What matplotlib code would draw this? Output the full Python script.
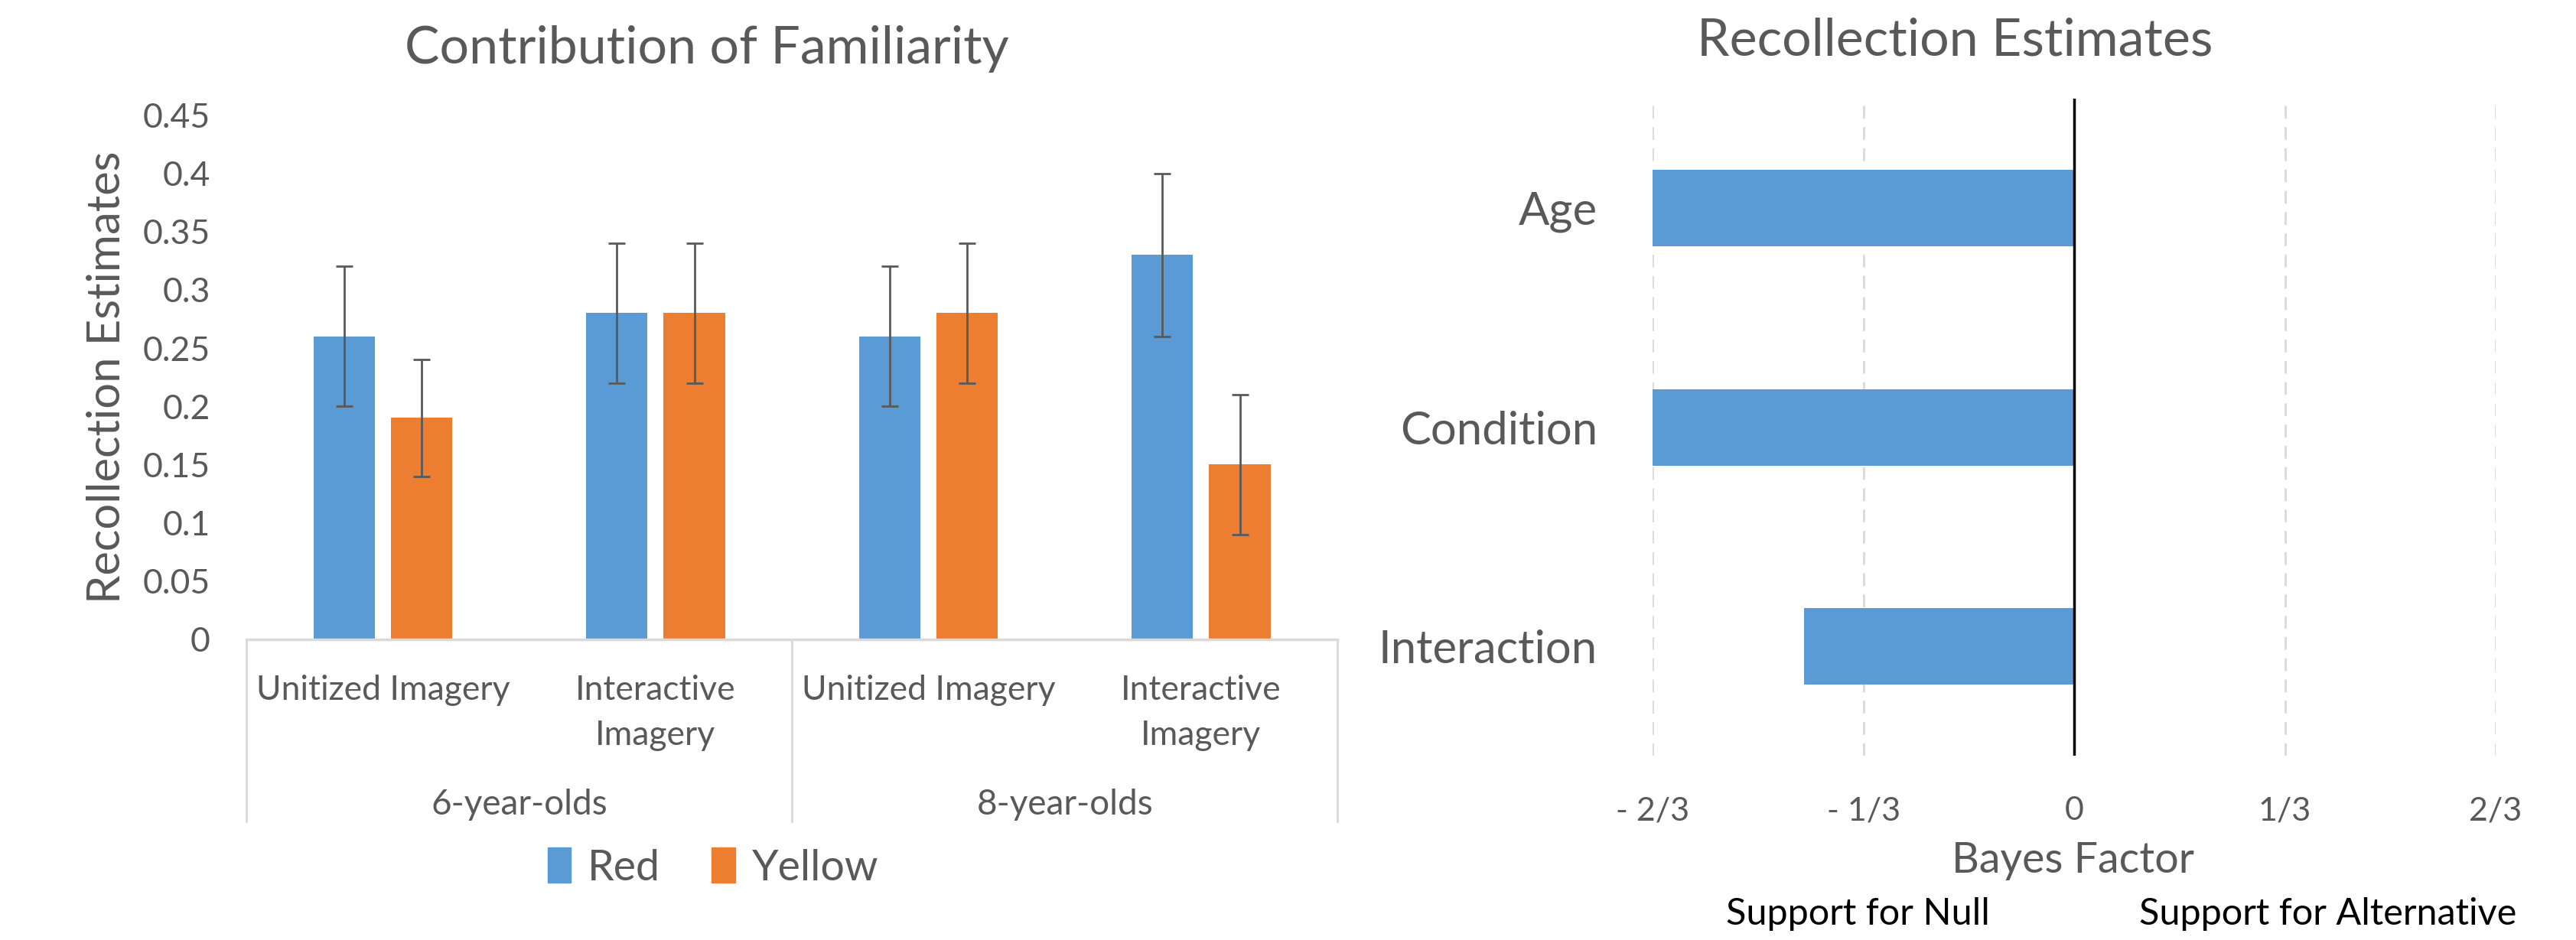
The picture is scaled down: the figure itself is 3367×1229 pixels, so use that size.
import numpy as np
import matplotlib.pyplot as plt
from matplotlib.patches import Patch

plt.rcParams['font.family'] = ['Lato', 'DejaVu Sans']

# Datos de la grafica izquierda
condiciones = ['Unitized Imagery', 'Interactive\nImagery', 'Unitized Imagery', 'Interactive\nImagery']
edades = ['6-year-olds', '8-year-olds']
rojo = [0.26, 0.28, 0.26, 0.33]
rojo_err = [0.06, 0.06, 0.06, 0.07]
amarillo = [0.19, 0.28, 0.28, 0.15]
amarillo_err = [0.05, 0.06, 0.06, 0.06]
yticks = [0, 0.05, 0.1, 0.15, 0.2, 0.25, 0.3, 0.35, 0.4, 0.45]
ytick_labels = ['0', '0.05', '0.1', '0.15', '0.2', '0.25', '0.3', '0.35', '0.4', '0.45']

# Datos de la grafica derecha
efectos = ['Age', 'Condition', 'Interaction']
bayes = [-0.667, -0.667, -0.427]
xticks_bf = [-2/3, -1/3, 0, 1/3, 2/3]
xtick_labels_bf = ['- 2/3', '- 1/3', '0', '1/3', '2/3']

azul = '#5B9BD5'
naranja = '#ED7D31'
gris = '#595959'
linea = '#D9D9D9'

fig = plt.figure(figsize=(33.67, 12.29), dpi=100)

# Grafica 1: barras agrupadas
ax1 = fig.add_axes([0.0957, 0.3199, 0.4235, 0.5577])
x = np.arange(len(condiciones))
ancho = 0.225
ax1.bar(x - 0.142, rojo, ancho, color=azul, yerr=rojo_err,
        error_kw=dict(ecolor=gris, elinewidth=2, capsize=8, capthick=2))
ax1.bar(x + 0.142, amarillo, ancho, color=naranja, yerr=amarillo_err,
        error_kw=dict(ecolor=gris, elinewidth=2, capsize=8, capthick=2))
ax1.set_xlim(-0.5, 3.5)
ax1.set_ylim(0, 0.45)
ax1.set_yticks(yticks)
ax1.set_yticklabels(ytick_labels)
ax1.set_xticks(x)
ax1.set_xticklabels(condiciones, linespacing=1.55)
ax1.tick_params(axis='y', length=0, pad=34, labelsize=32, labelcolor=gris)
ax1.tick_params(axis='x', length=0, pad=33, labelsize=32, labelcolor=gris)
for lab in ax1.get_xticklabels():
    lab.set_verticalalignment('top')
for s in ['top', 'right', 'left']:
    ax1.spines[s].set_visible(False)
ax1.spines['bottom'].set_color(linea)
ax1.spines['bottom'].set_linewidth(2.5)
ax1.set_ylabel('Recollection Estimates', fontsize=43, color=gris, labelpad=14)

# eje jerarquico
for xs in [0, 0.5, 1]:
    ax1.plot([xs, xs], [0, -0.348], transform=ax1.transAxes, color=linea,
             linewidth=2, clip_on=False)
for i, e in enumerate(edades):
    ax1.text(0.25 + 0.5 * i, -0.315, e, transform=ax1.transAxes, ha='center',
             va='center', fontsize=33, color=gris)

fig.text(430 / 1568, 1 - 30 / 572, 'Contribution of Familiarity', ha='center',
         va='center', fontsize=49, color=gris)

fig.legend(handles=[Patch(color=azul, label='Red'), Patch(color=naranja, label='Yellow')],
           loc='center', bbox_to_anchor=(434 / 1568, 1 - 528 / 572), ncol=2,
           frameon=False, fontsize=40, labelcolor=gris, handlelength=0.55,
           handleheight=0.9, handletextpad=0.4, columnspacing=1.2)

# Grafica 2: barras horizontales
ax2 = fig.add_axes([0.6416, 0.1958, 0.3272, 0.6993])
y = np.arange(len(efectos))
ax2.barh(y, bayes, height=0.35, color=azul, zorder=2)
ax2.set_ylim(2.5, -0.5)
ax2.set_xlim(-2/3, 2/3)
ax2.set_yticks(y)
ax2.set_yticklabels(efectos)
ax2.set_xticks(xticks_bf)
ax2.set_xticklabels(xtick_labels_bf)
ax2.tick_params(axis='y', length=0, pad=52, labelsize=43, labelcolor=gris)
ax2.tick_params(axis='x', length=0, pad=38, labelsize=31, labelcolor=gris)
for s in ax2.spines.values():
    s.set_visible(False)
for xv in [-2/3, -1/3, 1/3, 2/3]:
    ax2.axvline(xv, color=linea, linewidth=2, linestyle=(0, (6, 4)), zorder=1)
ax2.axvline(0, color='black', linewidth=2.5, zorder=3)

fig.text(1190 / 1568, 1 - 25 / 572, 'Recollection Estimates', ha='center',
         va='center', fontsize=49, color=gris)
fig.text(1262 / 1568, 1 - 524 / 572, 'Bayes Factor', ha='center', va='center',
         fontsize=40, color=gris)
fig.text(1131 / 1568, 1 - 556 / 572, 'Support for Null', ha='center', va='center',
         fontsize=35, color='black')
fig.text(1417 / 1568, 1 - 556 / 572, 'Support for Alternative', ha='center',
         va='center', fontsize=35, color='black')

fig.savefig('out.png', dpi=100)
